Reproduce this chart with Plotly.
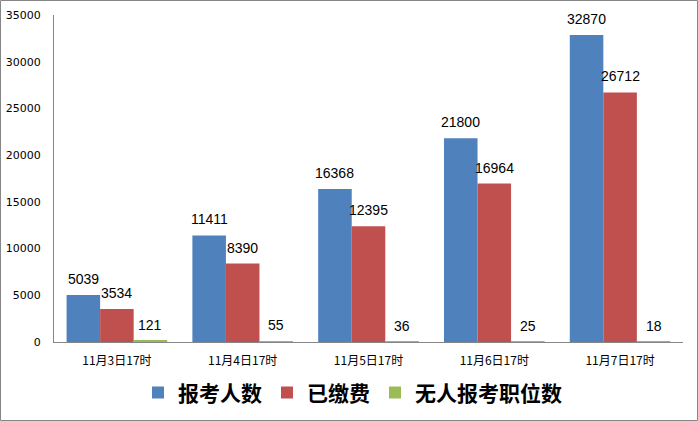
import plotly.graph_objects as go

categories = ["11月3日17时", "11月4日17时", "11月5日17时", "11月6日17时", "11月7日17时"]
series_names = ["报考人数", "已缴费", "无人报考职位数"]
applicants = [5039, 11411, 16368, 21800, 32870]
paid = [3534, 8390, 12395, 16964, 26712]
no_applicant_posts = [121, 55, 36, 25, 18]
y_ticks = [0, 5000, 10000, 15000, 20000, 25000, 30000, 35000]
y_tick_labels = ["0", "5000", "10000", "15000", "20000", "25000", "30000", "35000"]

colors = ["#4F81BD", "#C0504D", "#9BBB59"]
W, H = 698, 421
ML, MR, MT, MB = 54, 15, 15, 79
BARGAP = 0.2

series = [applicants, paid, no_applicant_posts]
n_series = len(series)
plot_w = W - ML - MR
bar_px = plot_w / len(categories) * (1 - BARGAP) / n_series

fig = go.Figure()
annotations = []
for si, (name, vals, col) in enumerate(zip(series_names, series, colors)):
    fig.add_trace(go.Bar(
        x=categories, y=vals, name=name,
        marker=dict(color=col, line=dict(width=0)),
        cliponaxis=False,
    ))
    shift = (si - (n_series - 1) / 2) * bar_px
    for c, v in zip(categories, vals):
        annotations.append(dict(
            x=c, y=v, xref="x", yref="y", text=str(v), showarrow=False,
            xanchor="center", yanchor="bottom", xshift=shift, yshift=6,
            font=dict(family="Liberation Sans, Arial", size=14, color="#000000"),
        ))

fig.update_layout(
    width=W, height=H,
    margin=dict(l=ML, r=MR, t=MT, b=MB, autoexpand=False),
    paper_bgcolor="white", plot_bgcolor="white",
    barmode="group", bargap=BARGAP, bargroupgap=0,
    showlegend=True,
    annotations=annotations,
    legend=dict(
        orientation="h", xref="container", yref="container",
        x=0.505, xanchor="center", y=0.067, yanchor="middle",
        font=dict(family="Noto Sans CJK SC", size=21, color="#000000", weight="bold"),
        itemwidth=30,
    ),
    xaxis=dict(
        showline=True, linecolor="#868686", linewidth=1,
        ticks="", showgrid=False, automargin=False,
        tickfont=dict(family="Noto Sans CJK SC, Liberation Sans", size=12, color="#000000"),
        ticklabelstandoff=8,
    ),
    yaxis=dict(
        range=[0, 35000], tickvals=y_ticks, ticktext=y_tick_labels,
        showline=True, linecolor="#868686", linewidth=1,
        ticks="", showgrid=False, zeroline=False, automargin=False,
        tickfont=dict(family="DejaVu Sans", size=11, color="#000000"),
        ticklabelstandoff=10,
    ),
    shapes=[dict(
        type="rect", xref="paper", yref="paper",
        x0=-(ML - 0.5) / plot_w, x1=1 + (MR - 0.5) / plot_w,
        y0=-(MB - 0.5) / (H - MT - MB), y1=1 + (MT - 0.5) / (H - MT - MB),
        line=dict(color="#868686", width=1), layer="below",
    )],
)

fig.write_html("out.html")
